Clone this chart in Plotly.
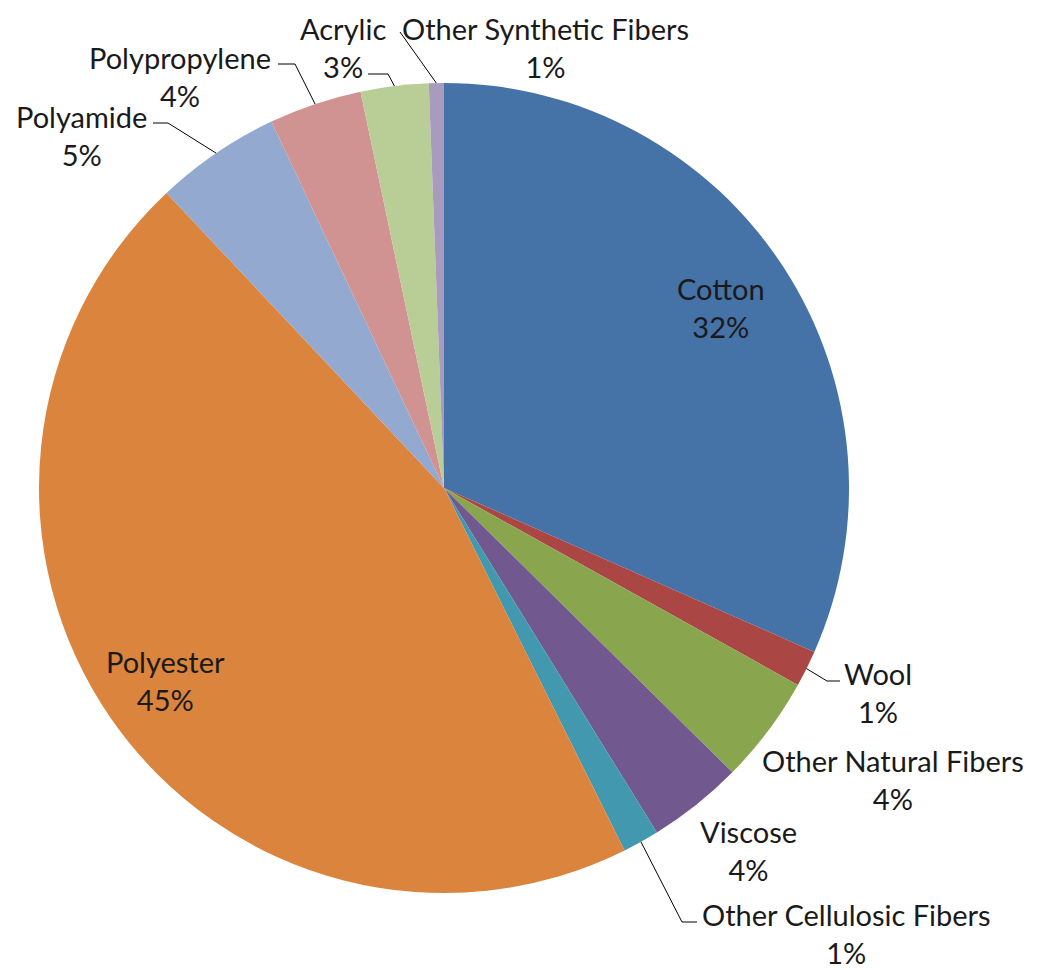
import math
import plotly.graph_objects as go

# ---- data ----
categories = ["Cotton", "Wool", "Other Natural Fibers", "Viscose", "Other Cellulosic Fibers",
              "Polyester", "Polyamide", "Polypropylene", "Acrylic", "Other Synthetic Fibers"]
values = [31.6, 1.45, 4.3, 3.8, 1.45, 45.3, 5.0, 3.7, 2.7, 0.6]
colors = ["#4572A7", "#AA4643", "#89A54E", "#71588F", "#4198AF",
          "#DB843D", "#93A9CF", "#D19392", "#B9CD96", "#A99BBD"]

# ---- layout (screen pixels) ----
W, H = 1037, 970
OFF = 8  # page body margin
CX, CY, R = 444, 488, 405
FONT = "Lato, 'Open Sans', sans-serif"
FS = 29

# label block centers and leader-line elbow/end points (layout only)
label_pos = {
    "Cotton": (721, 307),
    "Wool": (878, 692),
    "Other Natural Fibers": (893, 779),
    "Viscose": (748, 850),
    "Other Cellulosic Fibers": (846, 933),
    "Polyester": (165, 680),
    "Polyamide": (81, 136),
    "Polypropylene": (180, 77),
    "Acrylic": (343, 48),
    "Other Synthetic Fibers": (545, 48),
}
leaders = {
    "Wool": [(827, 681), (840, 681)],
    "Other Cellulosic Fibers": [(682, 922), (697, 922)],
    "Polyamide": [(168, 123), (153, 123)],
    "Polypropylene": [(295, 64), (278, 64)],
    "Acrylic": [(388, 74), (368, 74)],
    "Other Synthetic Fibers": [(400, 32)],
}

def px(x):
    return (x - OFF) / W

def py(y):
    return 1 - (y - OFF) / H

fig = go.Figure(go.Pie(
    labels=categories,
    values=values,
    sort=False,
    direction="clockwise",
    rotation=0,
    marker=dict(colors=colors, line=dict(width=0)),
    textinfo="none",
    hoverinfo="label+percent",
    showlegend=False,
    domain=dict(x=[px(CX - R), px(CX + R)], y=[py(CY + R), py(CY - R)]),
))

total = sum(values)
annotations = []
shapes = []
cum = 0.0
for cat, v in zip(categories, values):
    mid = (cum + v / 2) / total * 2 * math.pi
    cum += v
    pct = round(v / total * 100)
    lx, ly = label_pos[cat]
    annotations.append(dict(
        x=px(lx), y=py(ly), xref="paper", yref="paper",
        text=f"{cat}<br>{pct}%", showarrow=False,
        xanchor="center", yanchor="middle", align="center",
        font=dict(family=FONT, size=FS, color="#1a1a1a"),
    ))
    if cat in leaders:
        sx = CX + R * math.sin(mid)
        sy = CY - R * math.cos(mid)
        pts = [(sx, sy)] + leaders[cat]
        path = "M " + " L ".join(f"{px(x)},{py(y)}" for x, y in pts)
        shapes.append(dict(type="path", path=path, xref="paper", yref="paper",
                           line=dict(color="#000000", width=1)))

fig.update_layout(
    width=W, height=H,
    margin=dict(l=0, r=0, t=0, b=0),
    paper_bgcolor="white",
    plot_bgcolor="white",
    annotations=annotations,
    shapes=shapes,
)

fig.write_html("out.html")
